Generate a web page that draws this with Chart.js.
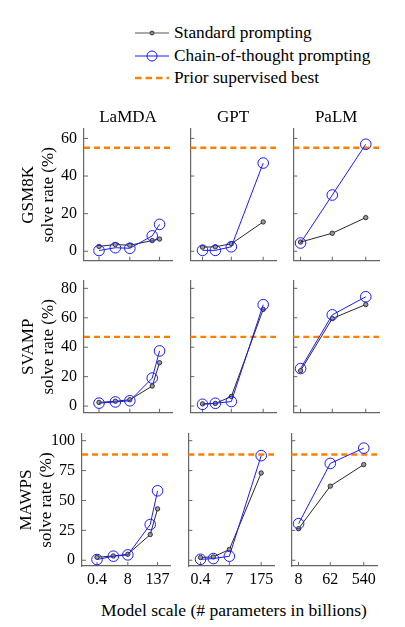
<!DOCTYPE html>
<html>
<head>
<meta charset="utf-8">
<script src="https://cdn.jsdelivr.net/npm/chart.js@4.4.0/dist/chart.umd.min.js"></script>
<style>
  body { margin: 0; background: #fff; width: 405px; height: 627px; position: relative; overflow: hidden;
         font-family: "Liberation Serif", "Times New Roman", serif; color: #000; }
  canvas { position: absolute; }
  .lg-icon { position: absolute; left: 135px; width: 34px; height: 14px; }
  .lg-text { position: absolute; left: 174px; font-size: 17.3px; line-height: 20px; white-space: nowrap; }
  .xtitle { position: absolute; left: 0; width: 468px; top: 600px; text-align: center;
            font-size: 17.5px; line-height: 20px; white-space: nowrap; }
</style>
</head>
<body>

<svg class="lg-icon" style="top:26px" viewBox="0 0 34 14">
  <line x1="0" y1="7" x2="34" y2="7" stroke="#555" stroke-width="1"/>
  <circle cx="17" cy="7" r="2" fill="#888" stroke="#222" stroke-width="0.8"/>
</svg>
<div class="lg-text" style="top:23px">Standard prompting</div>
<svg class="lg-icon" style="top:49px" viewBox="0 0 34 14">
  <line x1="0" y1="7" x2="34" y2="7" stroke="#1a1aff" stroke-width="1"/>
  <circle cx="17" cy="7" r="5" fill="none" stroke="#1a1aff" stroke-width="1"/>
</svg>
<div class="lg-text" style="top:46px">Chain-of-thought prompting</div>
<svg class="lg-icon" style="top:71px" viewBox="0 0 34 14">
  <line x1="0" y1="7" x2="34" y2="7" stroke="#ff8000" stroke-width="2.5" stroke-dasharray="6.5 4"/>
</svg>
<div class="lg-text" style="top:68px">Prior supervised best</div>

<div class="xtitle">Model scale (# parameters in billions)</div>

<script>
// model sizes (billions of parameters) and x tick labels
const lamdaSizes = [0.42, 2, 8, 68, 137];
const gptSizes = [0.35, 1.3, 6.7, 175];
const palmSizes = [8, 62, 540];

const lamdaTicks = [0.42, 8, 137];
const lamdaTickLabels = ['0.4', '8', '137'];
const gptTicks = [0.35, 6.7, 175];
const gptTickLabels = ['0.4', '7', '175'];
const palmTicks = [8, 62, 540];
const palmTickLabels = ['8', '62', '540'];

const models = ['LaMDA', 'GPT', 'PaLM'];
const tasks = ['GSM8K', 'SVAMP', 'MAWPS'];

const gsm8kYTicks = [0, 20, 40, 60];
const svampYTicks = [0, 20, 40, 60, 80];
const mawpsYTicks = [0, 25, 50, 75, 100];

const gsm8kBest = 55;
const svampBest = 47;
const mawpsBest = 88.4;

// GSM8K solve rates
const lamdaGsm8kStd = [2.6, 3.6, 3.2, 5.7, 6.5];
const lamdaGsm8kCot = [0.4, 1.9, 1.6, 8.2, 14.3];
const gptGsm8kStd = [2.2, 2.4, 4.0, 15.6];
const gptGsm8kCot = [0.5, 0.5, 2.4, 46.9];
const palmGsm8kStd = [4.9, 9.6, 17.9];
const palmGsm8kCot = [4.4, 29.9, 56.9];

// SVAMP
const lamdaSvampStd = [2.5, 3.3, 4.3, 13.6, 29.5];
const lamdaSvampCot = [2.0, 2.8, 3.6, 19.0, 37.5];
const gptSvampStd = [1.5, 1.8, 6.5, 65.7];
const gptSvampCot = [1.2, 1.9, 3.1, 68.9];
const palmSvampStd = [24.0, 59.5, 69.0];
const palmSvampCot = [25.5, 62.0, 74.3];

// MAWPS
const lamdaMawpsStd = [2.5, 3.6, 5.0, 21.5, 43.0];
const lamdaMawpsCot = [0.6, 3.4, 4.5, 29.9, 58.1];
const gptMawpsStd = [2.3, 2.8, 9.0, 73.0];
const gptMawpsCot = [0.8, 1.4, 3.4, 87.5];
const palmMawpsStd = [26.4, 62.0, 80.0];
const palmMawpsCot = [30.6, 81.0, 93.8];

Chart.defaults.font.family = '"Liberation Serif", "Times New Roman", serif';
Chart.defaults.color = '#000';

const sizes = [lamdaSizes, gptSizes, palmSizes];
const xTicks = [lamdaTicks, gptTicks, palmTicks];
const xTickLabels = [lamdaTickLabels, gptTickLabels, palmTickLabels];
const xRange = [[0.1, 450], [0.1, 650], [5, 1270]];
const yRange = [[-5, 65], [-4.5, 85], [-4.8, 105.6]];
const yTicks = [gsm8kYTicks, svampYTicks, mawpsYTicks];
const best = [gsm8kBest, svampBest, mawpsBest];
const stdRows = [
	[lamdaGsm8kStd, gptGsm8kStd, palmGsm8kStd],
	[lamdaSvampStd, gptSvampStd, palmSvampStd],
	[lamdaMawpsStd, gptMawpsStd, palmMawpsStd]
];
const cotRows = [
	[lamdaGsm8kCot, gptGsm8kCot, palmGsm8kCot],
	[lamdaSvampCot, gptSvampCot, palmSvampCot],
	[lamdaMawpsCot, gptMawpsCot, palmMawpsCot]
];

// plot boxes in page pixels
const rowTop = [129, 281, 434];
const rowBottom = [261, 413, 566];
const colEdges = [
	[[84, 172], [188, 276], [291, 379]],
	[[84, 172], [188, 276], [291, 379]],
	[[82, 170], [186, 274], [289, 377]]
];

// inside tick marks + dashed "prior best" line
const frame = {
	id: 'frame',
	beforeDatasetsDraw(chart, args, opts) {
		const {ctx, chartArea: a, scales: {x, y}} = chart;
		ctx.save();
		ctx.strokeStyle = '#666';
		ctx.lineWidth = 1;
		ctx.beginPath();
		x.ticks.forEach(t => {
			const px = x.getPixelForValue(t.value);
			ctx.moveTo(px, a.bottom);
			ctx.lineTo(px, a.bottom - 4);
		});
		y.ticks.forEach(t => {
			const py = y.getPixelForValue(t.value);
			ctx.moveTo(a.left, py);
			ctx.lineTo(a.left + 4, py);
		});
		ctx.stroke();
		const py = y.getPixelForValue(opts.best);
		ctx.strokeStyle = '#ff8000';
		ctx.lineWidth = 2.4;
		ctx.setLineDash([6, 4]);
		ctx.beginPath();
		ctx.moveTo(a.left, py);
		ctx.lineTo(a.right, py);
		ctx.stroke();
		ctx.restore();
	}
};

function points(xs, ys) {
	return xs.map((v, i) => ({x: v, y: ys[i]}));
}

for (let r = 0; r < 3; r++) {
	for (let c = 0; c < 3; c++) {
		const [L, R] = colEdges[r][c];
		const T = rowTop[r], B = rowBottom[r];
		const yw = c === 0 ? 84 : 4;
		const padTop = r === 0 ? 0 : 8;
		const titleH = r === 0 ? 21 : 0;
		const xh = r === 2 ? 32 : 6;
		const padRight = 8;

		const canvas = document.createElement('canvas');
		canvas.width = (R - L) + yw + padRight;
		canvas.height = (B - T) + padTop + titleH + xh;
		canvas.style.left = (L - yw) + 'px';
		canvas.style.top = (T - padTop - titleH) + 'px';
		document.body.appendChild(canvas);

		new Chart(canvas, {
			type: 'line',
			data: {
				datasets: [
					{
						label: 'Standard prompting',
						data: points(sizes[c], stdRows[r][c]),
						borderColor: '#111',
						borderWidth: 0.9,
						pointRadius: 2.2,
						pointBackgroundColor: '#999',
						pointBorderColor: '#111',
						pointBorderWidth: 0.8,
						order: 2,
						clip: false
					},
					{
						label: 'Chain-of-thought prompting',
						data: points(sizes[c], cotRows[r][c]),
						borderColor: '#1a1aff',
						borderWidth: 1,
						pointRadius: 5.3,
						pointBackgroundColor: 'rgba(0,0,0,0)',
						pointBorderColor: '#1a1aff',
						pointBorderWidth: 1,
						order: 1,
						clip: false
					}
				]
			},
			options: {
				responsive: false,
				animation: false,
				events: [],
				layout: {padding: {top: padTop, right: padRight, left: 0, bottom: 0}},
				plugins: {
					legend: {display: false},
					tooltip: {enabled: false},
					title: {
						display: r === 0,
						text: models[c],
						fullSize: false,
						font: {size: 17, weight: 'normal', lineHeight: '20px'},
						padding: {top: 0, bottom: 1},
						color: '#000'
					},
					frame: {best: best[r]}
				},
				scales: {
					x: {
						type: 'logarithmic',
						bounds: 'data',
						min: xRange[c][0],
						max: xRange[c][1],
						afterBuildTicks: s => { s.ticks = xTicks[c].map(v => ({value: v})); },
						afterFit: s => { s.height = xh; s.paddingLeft = 0; s.paddingRight = 0; },
						grid: {display: false, drawTicks: false},
						border: {display: true, color: '#666', width: 1.2},
						ticks: {
							display: r === 2,
							padding: 4,
							autoSkip: false,
							maxRotation: 0,
							font: {size: 16},
							callback: (v, i) => xTickLabels[c][i]
						}
					},
					y: {
						type: 'linear',
						bounds: 'data',
						min: yRange[r][0],
						max: yRange[r][1],
						afterBuildTicks: s => { s.ticks = yTicks[r].map(v => ({value: v})); },
						afterFit: s => { s.width = yw; s.paddingTop = 0; s.paddingBottom = 0; },
						grid: {display: false, drawTicks: false},
						border: {display: true, color: '#666', width: 1.2},
						ticks: {
							display: c === 0,
							padding: 7,
							autoSkip: false,
							font: {size: 16},
							callback: (v, i) => String(yTicks[r][i])
						},
						title: {
							display: c === 0,
							text: [tasks[r], 'solve rate (%)'],
							font: {size: 17, lineHeight: 1.2},
							padding: {top: 18},
							color: '#000'
						}
					}
				}
			},
			plugins: [frame]
		});
	}
}
</script>
</body>
</html>
